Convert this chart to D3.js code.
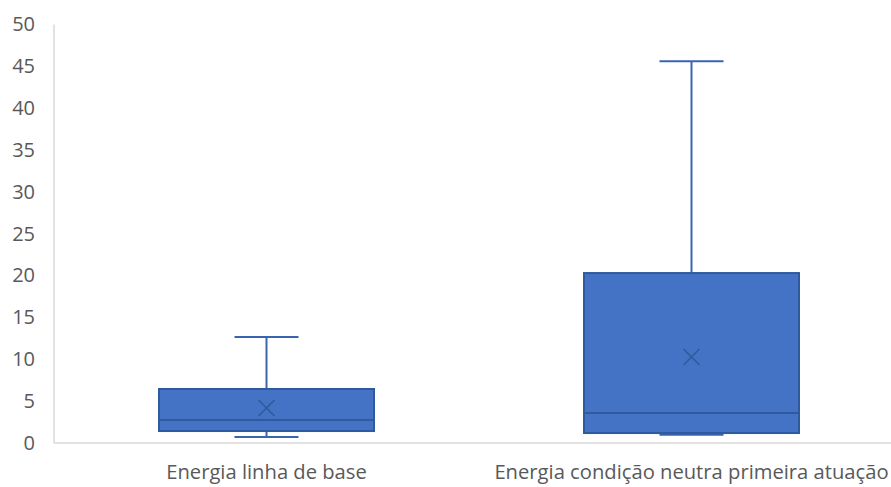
<!DOCTYPE html>
<html><head><meta charset="utf-8">
<script src="https://cdn.jsdelivr.net/npm/d3@7"></script>
<style>body{margin:0;background:#fff;}svg{display:block;}</style>
</head><body>
<svg id="c" width="891" height="487"></svg>
<script>
const categories = ["Energia linha de base", "Energia condição neutra primeira atuação"];
const whiskerMin = [0.72, 1.0];
const q1 = [1.43, 1.19];
const median = [2.75, 3.58];
const q3 = [6.45, 20.3];
const whiskerMax = [12.66, 45.6];
const mean = [4.18, 10.27];
const yTicks = [0, 5, 10, 15, 20, 25, 30, 35, 40, 45, 50];

(function () {
const svg = d3.select("#c");
const font = "'Open Sans', sans-serif";
const mLeft = 54, mRight = 904, mTop = 24.4, mBottom = 443;
const x = d3.scaleBand().domain(categories).range([mLeft, mRight]);
const y = d3.scaleLinear().domain([0, 50]).range([mBottom, mTop]);

svg.append("line").attr("x1", mLeft).attr("x2", mLeft).attr("y1", y(50)).attr("y2", mBottom)
  .attr("stroke", "#D9D9D9").attr("stroke-width", 1.5);
svg.append("line").attr("x1", mLeft).attr("x2", 891).attr("y1", mBottom).attr("y2", mBottom)
  .attr("stroke", "#D9D9D9").attr("stroke-width", 1.5);

const yAxis = d3.axisLeft(y).tickValues(yTicks).tickSize(0).tickPadding(19);
const ya = svg.append("g").attr("transform", `translate(${mLeft},0)`).call(yAxis);
ya.select(".domain").remove();
ya.selectAll("text").attr("font-family", font).attr("font-size", 20).attr("fill", "#595959");

const xAxis = d3.axisBottom(x).tickSize(0).tickPadding(22);
const xa = svg.append("g").attr("transform", `translate(0,${mBottom})`).call(xAxis);
xa.select(".domain").remove();
xa.selectAll("text").attr("font-family", font).attr("font-size", 20.2).attr("fill", "#595959");

const boxW = 215, capW = 64;
const wc = "#3A64B0";
categories.forEach((c, i) => {
  const cx = x(c) + x.bandwidth() / 2;
  const g = svg.append("g");
  g.append("line").attr("x1", cx).attr("x2", cx).attr("y1", y(whiskerMax[i])).attr("y2", y(q3[i]))
    .attr("stroke", wc).attr("stroke-width", 2);
  g.append("line").attr("x1", cx).attr("x2", cx).attr("y1", y(whiskerMin[i])).attr("y2", y(q1[i]))
    .attr("stroke", wc).attr("stroke-width", 2);
  g.append("line").attr("x1", cx - capW / 2).attr("x2", cx + capW / 2).attr("y1", y(whiskerMax[i])).attr("y2", y(whiskerMax[i]))
    .attr("stroke", wc).attr("stroke-width", 2);
  g.append("line").attr("x1", cx - capW / 2).attr("x2", cx + capW / 2).attr("y1", y(whiskerMin[i])).attr("y2", y(whiskerMin[i]))
    .attr("stroke", wc).attr("stroke-width", 2);
  g.append("rect").attr("x", cx - boxW / 2).attr("width", boxW)
    .attr("y", y(q3[i])).attr("height", y(q1[i]) - y(q3[i]))
    .attr("fill", "#4472C4").attr("stroke", "#2F5A9E").attr("stroke-width", 2);
  g.append("line").attr("x1", cx - boxW / 2).attr("x2", cx + boxW / 2).attr("y1", y(median[i])).attr("y2", y(median[i]))
    .attr("stroke", "#2F5A9E").attr("stroke-width", 2);
  const my = y(mean[i]), s = 8;
  g.append("path").attr("d", `M${cx - s},${my - s}L${cx + s},${my + s}M${cx - s},${my + s}L${cx + s},${my - s}`)
    .attr("stroke", "#2F5A9E").attr("stroke-width", 1.5).attr("fill", "none");
});
})();
</script>
</body></html>
